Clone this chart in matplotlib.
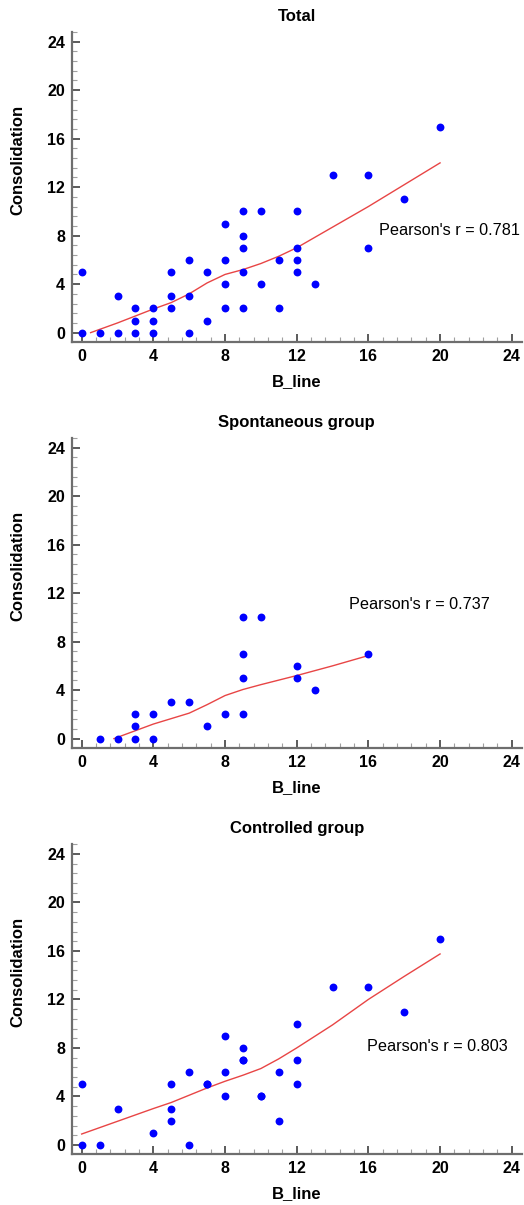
import matplotlib
matplotlib.use("Agg")
from matplotlib import pyplot as plt
from matplotlib.ticker import MultipleLocator
import numpy as np

plt.rcParams['font.family'] = ['Liberation Sans', 'DejaVu Sans']

# Точки (B_line, Consolidation)
total_x = [0, 0, 1, 2, 2, 3, 3, 3, 4, 4, 4, 5, 5, 5, 6, 6, 6, 7, 7, 8, 8, 8, 8,
           9, 9, 9, 9, 9, 10, 10, 11, 11, 12, 12, 12, 12, 13, 14, 16, 16, 18, 20]
total_y = [5, 0, 0, 3, 0, 2, 1, 0, 2, 1, 0, 5, 3, 2, 6, 3, 0, 5, 1, 9, 6, 4, 2,
           10, 8, 7, 5, 2, 10, 4, 6, 2, 10, 7, 6, 5, 4, 13, 13, 7, 11, 17]

spont_x = [1, 2, 3, 3, 3, 4, 4, 5, 6, 7, 8, 9, 9, 9, 9, 10, 12, 12, 13, 16]
spont_y = [0, 0, 2, 1, 0, 2, 0, 3, 3, 1, 2, 10, 7, 5, 2, 10, 6, 5, 4, 7]

contr_x = [0, 0, 1, 2, 4, 5, 5, 5, 6, 6, 7, 7, 8, 8, 8, 9, 9, 9, 10, 10, 11, 11,
           12, 12, 12, 14, 16, 18, 20]
contr_y = [5, 0, 0, 3, 1, 5, 3, 2, 6, 0, 5, 5, 9, 6, 4, 8, 7, 7, 4, 4, 6, 2,
           10, 7, 5, 13, 13, 11, 17]

# Сглаженные кривые
total_fit_x = [0.5, 2, 4, 5, 6, 7, 8, 9, 10, 11, 12, 13, 14, 16, 18, 20]
total_fit_y = [0, 0.8, 1.95, 2.48, 3.2, 4.1, 4.8, 5.2, 5.7, 6.3, 7.0, 7.85, 8.7, 10.4, 12.2, 14.0]

spont_fit_x = [1.8, 4, 6, 7, 8, 9, 10, 12, 14, 16]
spont_fit_y = [0, 1.2, 2.1, 2.8, 3.55, 4.05, 4.45, 5.2, 6.0, 6.85]

contr_fit_x = [0, 2, 4, 5, 6, 7, 8, 9, 10, 11, 12, 14, 16, 18, 20]
contr_fit_y = [0.9, 1.95, 3.0, 3.5, 4.1, 4.7, 5.25, 5.75, 6.3, 7.1, 8.0, 9.9, 12.0, 13.9, 15.75]

titles = ["Total", "Spontaneous group", "Controlled group"]
r_values = [0.781, 0.737, 0.803]
r_pos = [(16.6, 8.45), (14.9, 11.05), (15.95, 8.1)]

panels = [
    (total_x, total_y, total_fit_x, total_fit_y),
    (spont_x, spont_y, spont_fit_x, spont_fit_y),
    (contr_x, contr_y, contr_fit_x, contr_fit_y),
]

fig = plt.figure(figsize=(5.24, 12.05), dpi=100)
bottoms = [0.7162, 0.3793, 0.0421]

for i, (px, py, fx, fy) in enumerate(panels):
    ax = fig.add_axes([0.1374, bottoms[i], 0.858, 0.2573])
    ax.scatter(px, py, s=32, color='#0000ff', zorder=3, linewidths=0)
    ax.plot(fx, fy, color='#e84545', linewidth=1.0, zorder=2)

    ax.set_xlim(-0.54, 24.55)
    ax.set_ylim(-0.77, 24.8)
    ax.xaxis.set_major_locator(MultipleLocator(4))
    ax.yaxis.set_major_locator(MultipleLocator(4))
    ax.xaxis.set_minor_locator(MultipleLocator(0.8))
    ax.yaxis.set_minor_locator(MultipleLocator(0.8))

    # Убираем рамку сверху и справа
    ax.spines['right'].set_visible(False)
    ax.spines['top'].set_visible(False)
    for s in ['left', 'bottom']:
        ax.spines[s].set_color('#6e6e6e')
        ax.spines[s].set_linewidth(1.6)

    ax.tick_params(which='major', direction='in', length=6, width=1.2,
                   color='#404040', pad=5, labelsize=11.5)
    ax.tick_params(which='minor', direction='in', length=3.5, width=0.8,
                   color='#a0a0a0')
    for lab in ax.get_xticklabels() + ax.get_yticklabels():
        lab.set_fontweight('bold')

    ax.set_title(titles[i], fontsize=12, fontweight='bold', pad=8)
    ax.set_xlabel("B_line", fontsize=12, fontweight='bold')
    ax.set_ylabel("Consolidation", fontsize=12, fontweight='bold')
    ax.xaxis.set_label_coords(0.5, -0.103)
    ax.yaxis.set_label_coords(-0.104, 0.587)

    ax.text(r_pos[i][0], r_pos[i][1], "Pearson's r = %.3f" % r_values[i],
            fontsize=11.7, ha='left', va='center')

fig.savefig("out.png", dpi=100)
